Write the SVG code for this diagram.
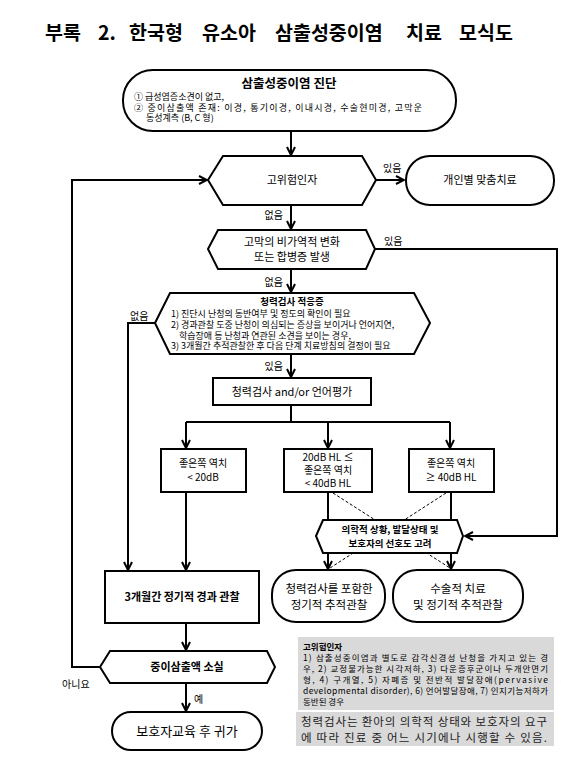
<svg xmlns="http://www.w3.org/2000/svg" width="580" height="777" viewBox="0 0 580 777">
<defs>
<style>
.b{fill:#fff;stroke:#000;stroke-width:2}
.g{fill:#d9d9d9;stroke:none}
.c{fill:none;stroke:#000;stroke-width:2}
.d{fill:none;stroke:#000;stroke-width:1;stroke-dasharray:3 2}
text{font-family:"Noto Sans CJK KR","Noto Sans",sans-serif;fill:#000}
.m{text-anchor:middle}
.bd{font-weight:bold}
.s{font-size:8.5px}
.s9{font-size:9px}
.n{font-size:11px}
.l{font-size:10px}
</style>
<marker id="ah" viewBox="0 0 10 10" refX="9" refY="5" markerWidth="10" markerHeight="10" markerUnits="userSpaceOnUse" orient="auto"><path d="M1,1 L9,5 L1,9" fill="none" stroke="#000" stroke-width="2"/></marker>
</defs>
<rect width="580" height="777" fill="#fff"/>
<text y="40" class="bd" style="font-size:19.5px"><tspan x="45">부록</tspan><tspan x="98">2.</tspan><tspan x="129">한국형</tspan><tspan x="202">유소아</tspan><tspan x="275">삼출성중이염</tspan><tspan x="406">치료</tspan><tspan x="459">모식도</tspan></text>

<g id="connectors">
<path class="c" d="M291,131 V155" marker-end="url(#ah)"/>
<path class="c" d="M376,180 H404" marker-end="url(#ah)"/>
<path class="c" d="M291,205 V229" marker-end="url(#ah)"/>
<path class="c" d="M375,249 H557 V536 H465" marker-end="url(#ah)"/>
<path class="c" d="M291,269 V292" marker-end="url(#ah)"/>
<path class="c" d="M291,354 V377" marker-end="url(#ah)"/>
<path class="c" d="M291,405 V422 M186,422 H450"/>
<path class="c" d="M186,422 V448" marker-end="url(#ah)"/>
<path class="c" d="M328,422 V448" marker-end="url(#ah)"/>
<path class="c" d="M450,422 V448" marker-end="url(#ah)"/>
<path class="c" d="M155,323 H128 V570" marker-end="url(#ah)"/>
<path class="c" d="M186,492 V570" marker-end="url(#ah)"/>
<path class="c" d="M328,492 V569" marker-end="url(#ah)"/>
<path class="c" d="M451,492 V569" marker-end="url(#ah)"/>
<path class="d" d="M333,493 L450,568 M446,493 L330,568"/>
<path class="c" d="M186,623 V650" marker-end="url(#ah)"/>
<path class="c" d="M186,683 V711" marker-end="url(#ah)"/>
<path class="c" d="M100,667 H72 V180 H207" marker-end="url(#ah)"/>
<text x="383" y="172" class="l">있음</text>
<text x="283" y="219" class="l" text-anchor="end">없음</text>
<text x="384" y="245" class="l">있음</text>
<text x="283" y="286" class="l" text-anchor="end">없음</text>
<text x="130" y="320" class="l">없음</text>
<text x="283" y="370" class="l" text-anchor="end">있음</text>
<text x="62" y="688" class="l">아니요</text>
<text x="194" y="703" class="l">예</text>
</g>

<g id="diagnosis">
<rect class="b" x="123" y="70" width="333" height="61" rx="30"/>
<text x="289" y="88" class="m bd" style="font-size:12.5px">삼출성중이염 진단</text>
<text x="134" y="100" class="s9">① 급성염증소견이 없고,</text>
<text x="134" y="110.5" class="s9" textLength="288" lengthAdjust="spacing">② 중이삼출액 존재: 이경, 통기이경, 이내시경, 수술현미경, 고막운</text>
<text x="146" y="121" class="s9">동성계측 (B, C 형)</text>
</g>

<g id="risk">
<polygon class="b" points="208,180 223,156 362,156 376,180 362,205 223,205"/>
<text x="292" y="184" class="m n">고위험인자</text>
</g>

<g id="individual">
<rect class="b" x="406" y="156" width="148" height="49" rx="24"/>
<text x="480" y="184" class="m n">개인별 맞춤치료</text>
</g>

<g id="tm-change">
<polygon class="b" points="208,249 218,230 366,230 375,249 366,269 218,269"/>
<text x="292" y="246" class="m n">고막의 비가역적 변화</text>
<text x="292" y="261" class="m n">또는 합병증 발생</text>
</g>

<g id="indication">
<polygon class="b" points="155,323 170,293 414,293 430,323 414,354 170,354"/>
<text x="292" y="305" class="m bd" style="font-size:9.5px">청력검사 적응증</text>
<text x="171" y="317" class="s9">1) 진단시 난청의 동반여부 및 정도의 확인이 필요</text>
<text x="171" y="328" class="s9">2) 경과관찰 도중 난청이 의심되는 증상을 보이거나 언어지연,</text>
<text x="179" y="338.5" class="s9">학습장애 등 난청과 연관된 소견을 보이는 경우,</text>
<text x="171" y="349" class="s9">3) 3개월간 추적관찰한 후 다음 단계 치료방침의 결정이 필요</text>
</g>

<g id="hearing-test">
<rect class="b" x="213" y="378" width="158" height="27"/>
<text x="292" y="396" class="m n">청력검사 and/or 언어평가</text>
</g>

<g id="lt20">
<rect class="b" x="161" y="449" width="85" height="43"/>
<text x="203" y="467" class="m l">좋은쪽 역치</text>
<text x="203" y="481" class="m l">&lt; 20dB</text>
</g>

<g id="mid">
<rect class="b" x="284" y="449" width="88" height="43"/>
<text x="328" y="461" class="m l">20dB HL ≤</text>
<text x="328" y="474" class="m l">좋은쪽 역치</text>
<text x="328" y="487" class="m l">&lt; 40dB HL</text>
</g>

<g id="ge40">
<rect class="b" x="409" y="449" width="85" height="43"/>
<text x="451" y="467" class="m l">좋은쪽 역치</text>
<text x="451" y="481" class="m l">≥ 40dB HL</text>
</g>

<g id="consider">
<polygon class="b" points="316,536 323,520 457,520 463,536 457,553 323,553"/>
<text x="390" y="533" class="m bd" style="font-size:9.5px">의학적 상황, 발달상태 및</text>
<text x="390" y="547" class="m bd" style="font-size:9.5px">보호자의 선호도 고려</text>
</g>

<g id="observe3m">
<rect class="b" x="105" y="571" width="154" height="52"/>
<text x="182" y="601" class="m bd n">3개월간 정기적 경과 관찰</text>
</g>

<g id="followup">
<rect class="b" x="272" y="570" width="113" height="52" rx="24"/>
<text x="329" y="593" class="m" style="font-size:11.5px">청력검사를 포함한</text>
<text x="329" y="609" class="m" style="font-size:11.5px">정기적 추적관찰</text>
</g>

<g id="surgery">
<rect class="b" x="393" y="570" width="130" height="52" rx="24"/>
<text x="458" y="593" class="m" style="font-size:11.5px">수술적 치료</text>
<text x="458" y="609" class="m" style="font-size:11.5px">및 정기적 추적관찰</text>
</g>

<g id="resolved">
<polygon class="b" points="100,667 110,651 267,651 275,667 267,683 110,683"/>
<text x="187" y="671" class="m bd n">중이삼출액 소실</text>
</g>

<g id="education">
<rect class="b" x="112" y="712" width="150" height="38" rx="19"/>
<text x="187" y="736" class="m" style="font-size:13px">보호자교육 후 귀가</text>
</g>

<g id="note-risk">
<rect class="g" x="298" y="637" width="256" height="73"/>
<text x="303" y="650" class="s bd">고위험인자</text>
<text x="303" y="661" class="s" textLength="245" lengthAdjust="spacing">1) 삼출성중이염과 별도로 감각신경성 난청을 가지고 있는 경</text>
<text x="303" y="672" class="s" textLength="245" lengthAdjust="spacing">우, 2) 교정불가능한 시각저하, 3) 다운증후군이나 두개안면기</text>
<text x="303" y="683" class="s" textLength="245" lengthAdjust="spacing">형, 4) 구개열, 5) 자폐증 및 전반적 발달장애(pervasive</text>
<text x="303" y="694" class="s" textLength="245" lengthAdjust="spacing">developmental disorder), 6) 언어발달장애, 7) 인지기능저하가</text>
<text x="303" y="705" class="s">동반된 경우</text>
</g>

<g id="note-test">
<rect class="g" x="296" y="712" width="258" height="34"/>
<text x="301" y="726" style="font-size:11.5px;fill:#222" textLength="246" lengthAdjust="spacing">청력검사는 환아의 의학적 상태와 보호자의 요구</text>
<text x="301" y="742" style="font-size:11.5px;fill:#222" textLength="246" lengthAdjust="spacing">에 따라 진료 중 어느 시기에나 시행할 수 있음.</text>
</g>
</svg>
